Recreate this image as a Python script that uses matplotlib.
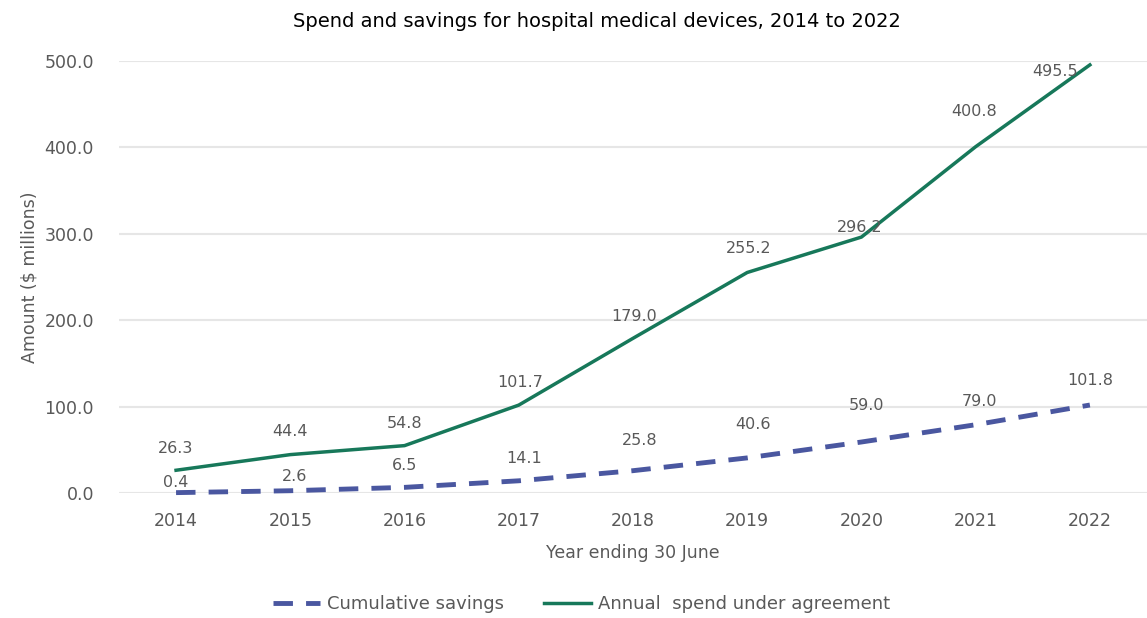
import matplotlib.pyplot as plt
import numpy as np

years = ["2014", "2015", "2016", "2017", "2018", "2019", "2020", "2021", "2022"]
savings = [0.4, 2.6, 6.5, 14.1, 25.8, 40.6, 59.0, 79.0, 101.8]
spend = [26.3, 44.4, 54.8, 101.7, 179.0, 255.2, 296.2, 400.8, 495.5]

# label offsets in points (dx, dy)
spend_off = [(0, 16), (0, 17), (0, 16), (1, 16), (1, 16), (1, 17), (-1, 7), (-1, 25), (-25, -5)]
savings_off = [(0, 7), (3, 10), (0, 16), (4, 16), (5, 22), (4, 24), (4, 26), (3, 17), (0, 18)]

green = "#17785a"
blue = "#4a57a0"
grey = "#595959"

plt.rcParams['font.family'] = ['DejaVu Sans']

fig = plt.figure(figsize=(11.47, 6.18), dpi=100)
ax = fig.add_axes([0.1037, 0.2023, 0.8963, 0.699])

x = np.arange(len(years))
ax.plot(x, savings, color=blue, lw=3.5, ls=(0, (4, 2.7)), label="Cumulative savings", clip_on=False)
ax.plot(x, spend, color=green, lw=2.5, label="Annual  spend under agreement", clip_on=False)

for i in range(len(x)):
    ax.annotate(f"{spend[i]:.1f}", (x[i], spend[i]), xytext=spend_off[i], textcoords="offset points",
                ha="center", va="center", fontsize=11.5, color=grey)
    ax.annotate(f"{savings[i]:.1f}", (x[i], savings[i]), xytext=savings_off[i], textcoords="offset points",
                ha="center", va="center", fontsize=11.5, color=grey)

ax.set_xlim(-0.5, len(years) - 0.5)
ax.set_ylim(0, 500)
ax.set_xticks(x)
ax.set_xticklabels(years)
ax.set_yticks(np.arange(0, 501, 100))
ax.set_yticklabels([f"{v:.1f}" for v in np.arange(0, 501, 100)])
ax.tick_params(length=0, labelsize=12.5, colors=grey, pad=14)
ax.tick_params(axis="y", pad=18)
ax.grid(axis="y", color="#e6e6e6", lw=1.5)
ax.set_axisbelow(True)
for s in ax.spines.values():
    s.set_visible(False)

ax.set_xlabel("Year ending 30 June", fontsize=12.5, color=grey, labelpad=10)
ax.set_ylabel("Amount ($ millions)", fontsize=12.5, color=grey, labelpad=4)
fig.suptitle("Spend and savings for hospital medical devices, 2014 to 2022", x=0.52, y=0.981,
             fontsize=14, color="black")

leg = fig.legend(loc="center", bbox_to_anchor=(0.507, 0.022), ncol=2, frameon=False,
                 fontsize=13, handlelength=2.6, columnspacing=2.2, handletextpad=0.4)
for t in leg.get_texts():
    t.set_color(grey)

fig.savefig("out.png", dpi=100)
